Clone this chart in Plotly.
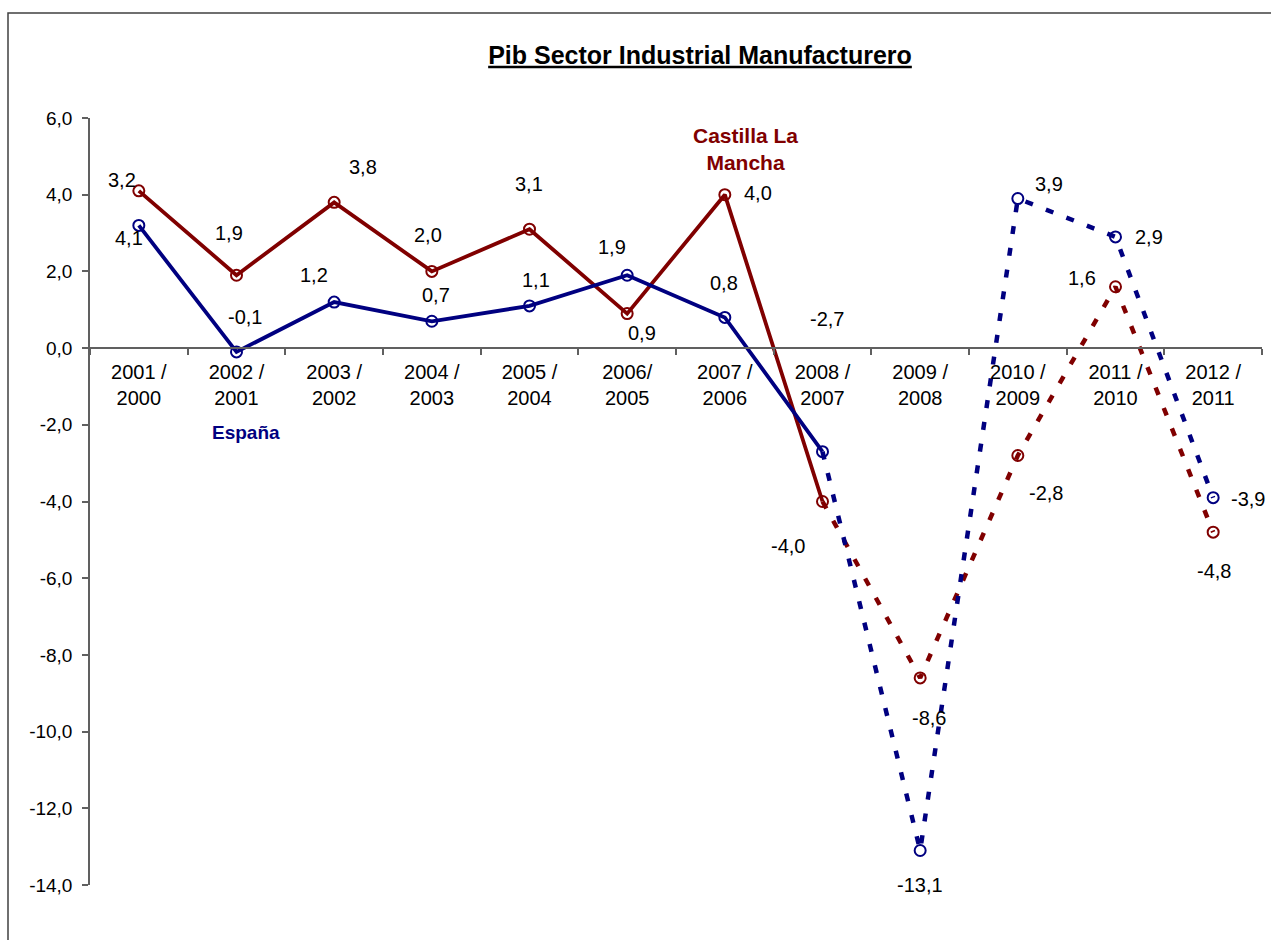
import plotly.graph_objects as go

categories = ["2001 /<br>2000", "2002 /<br>2001", "2003 /<br>2002", "2004 /<br>2003",
              "2005 /<br>2004", "2006/<br>2005", "2007 /<br>2006", "2008 /<br>2007",
              "2009 /<br>2008", "2010 /<br>2009", "2011 /<br>2010", "2012 /<br>2011"]
espana = [3.2, -0.1, 1.2, 0.7, 1.1, 1.9, 0.8, -2.7, -13.1, 3.9, 2.9, -3.9]
castilla = [4.1, 1.9, 3.8, 2.0, 3.1, 0.9, 4.0, -4.0, -8.6, -2.8, 1.6, -4.8]
y_tickvals = [6, 4, 2, 0, -2, -4, -6, -8, -10, -12, -14]
y_ticktext = ["6,0", "4,0", "2,0", "0,0", "-2,0", "-4,0", "-6,0", "-8,0", "-10,0", "-12,0", "-14,0"]

SPLIT = 7  # last solid point index (2008/2007)

# label pixel offsets (dx, dy downward) relative to each point
esp_off = [(-17, -45), (8, -35), (-20, -27), (4, -26), (6, -26), (-15, -28), (-1, -34),
           (4, -133), (0, 35), (31, -15), (33, 0), (35, 1)]
cas_off = [(-10, 47), (-8, -42), (29, -35), (-4, -36), (-1, -45), (15, 19), (33, -2),
           (-35, 44), (9, 40), (28, 38), (-34, -9), (1, 39)]

RED = "#800000"
BLUE = "#000080"
FONT = "Liberation Sans, Arial, sans-serif"


def fmt(v):
    return ("%.1f" % v).replace(".", ",")


fig = go.Figure()
for vals, col in [(castilla, RED), (espana, BLUE)]:
    solid = [v if i <= SPLIT else None for i, v in enumerate(vals)]
    dotted = [v if i >= SPLIT else None for i, v in enumerate(vals)]
    fig.add_trace(go.Scatter(x=categories, y=solid, mode="lines",
                             line=dict(color=col, width=3.8), showlegend=False))
    fig.add_trace(go.Scatter(x=categories, y=dotted, mode="lines",
                             line=dict(color=col, width=4.5, dash="8px,14px"), showlegend=False))
    fig.add_trace(go.Scatter(x=categories, y=vals, mode="markers",
                             marker=dict(symbol="circle-open", size=11, color=col,
                                         line=dict(width=2, color=col)),
                             showlegend=False))

annotations = []
for vals, offs in [(espana, esp_off), (castilla, cas_off)]:
    for c, v, (dx, dy) in zip(categories, vals, offs):
        annotations.append(dict(x=c, y=v, xref="x", yref="y", text=fmt(v), showarrow=False,
                                xshift=dx, yshift=-dy, xanchor="center", yanchor="middle",
                                font=dict(family=FONT, size=20, color="black")))

annotations.append(dict(x=(745 - 90) / 1172, y=(885 - 149) / 767, xref="paper", yref="paper",
                        text="<b>Castilla La<br>Mancha</b>", showarrow=False,
                        xanchor="center", yanchor="middle",
                        font=dict(family=FONT, size=21, color=RED)))
annotations.append(dict(x=(246 - 90) / 1172, y=(885 - 432) / 767, xref="paper", yref="paper",
                        text="<b>España</b>", showarrow=False,
                        xanchor="center", yanchor="middle",
                        font=dict(family=FONT, size=19, color=BLUE)))

fig.update_layout(
    width=1271, height=940,
    margin=dict(l=90, r=9, t=118, b=55),
    paper_bgcolor="white", plot_bgcolor="white",
    font=dict(family=FONT, size=20, color="black"),
    title=dict(text="<b><u>Pib Sector Industrial Manufacturero</u></b>",
               xref="container", yref="container", x=700 / 1271, y=1 - 55 / 940,
               xanchor="center", yanchor="middle",
               font=dict(family=FONT, size=25, color="black")),
    xaxis=dict(type="category", range=[-0.5, 11.5], anchor="free", position=0.7,
               showline=True, linecolor="#606060", linewidth=1.5,
               ticks="outside", tickson="boundaries", ticklen=6, tickcolor="#606060",
               tickwidth=1.5, showgrid=False, zeroline=False, ticklabelstandoff=6,
               tickfont=dict(family=FONT, size=20, color="black")),
    yaxis=dict(range=[-14, 6], tickvals=y_tickvals, ticktext=y_ticktext,
               showline=True, linecolor="#606060", linewidth=1.5,
               ticks="outside", ticklen=6, tickcolor="#606060", tickwidth=1.5,
               showgrid=False, zeroline=False, ticklabelstandoff=6,
               tickfont=dict(family=FONT, size=19, color="black")),
    annotations=annotations,
    shapes=[dict(type="rect", xref="paper", yref="paper",
                 x0=(8 - 90) / 1172, x1=(1285 - 90) / 1172,
                 y0=(885 - 960) / 767, y1=(885 - 13) / 767,
                 line=dict(color="#404040", width=1.5), fillcolor="rgba(0,0,0,0)",
                 layer="above")],
)

fig.write_html("out.html", config={"displayModeBar": False},
               post_script="document.body.style.margin='0';")
